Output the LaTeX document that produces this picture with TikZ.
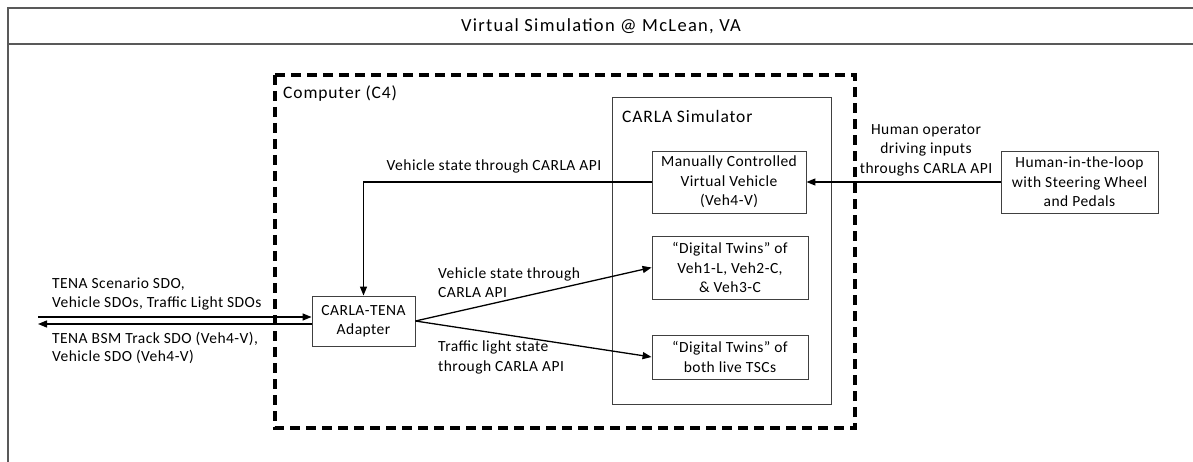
\documentclass[tikz,border=0pt]{standalone}
\usepackage{fontspec}
\setmainfont{Carlito}
\newfontfamily\wideface[LetterSpace=3]{Carlito}
\newfontfamily\headface[LetterSpace=5]{Carlito}
\newfontfamily\titleface[LetterSpace=7]{Carlito}
\usetikzlibrary{arrows.meta}
\begin{document}
\begin{tikzpicture}[x=1pt,y=-1pt,
  box/.style={draw=black!75,line width=0.9pt,minimum width=#1,inner sep=0pt,align=center,font=\wideface\fontsize{15.5}{19.5}\selectfont},
  lbl/.style={inner sep=0pt,font=\wideface\fontsize{15.5}{19.5}\selectfont},
  side/.style={inner sep=0pt,font=\wideface\fontsize{15.5}{18.5}\selectfont},
  conn/.style={line width=1.3pt,-{Triangle[length=9pt,width=7pt]}}]
\useasboundingbox (0,0) rectangle (1193,462);
% outer frame
\draw[draw=black!65,line width=1.2pt] (8,475) -- (8,8) -- (1200,8);
\draw[draw=black!65,line width=1.2pt] (8,44) -- (1200,44);
\node[inner sep=0pt,font=\titleface\fontsize{18.5}{22}\selectfont] (title) at (601,26) {Virtual Simulation @ McLean, VA};
% computer dashed box
\draw[line width=3.2pt,dash pattern=on 10pt off 6pt] (275,75) rectangle (855,428);
\node[inner sep=0pt,anchor=west,font=\headface\fontsize{17.5}{20}\selectfont] (comp) at (283,94) {Computer (C4)};
% CARLA simulator container
\node[draw=black!75,line width=0.9pt,minimum width=219pt,minimum height=307pt,inner sep=0pt] (sim) at (721.5,250.5) {};
\node[inner sep=0pt,anchor=west,font=\headface\fontsize{17.5}{20}\selectfont] (simlbl) at (622,116) {CARLA Simulator};
% boxes
\node[box=154pt,minimum height=62pt] (manual) at (729,182) {Manually Controlled\\Virtual Vehicle\\(Veh4-V)};
\node[box=156pt,minimum height=63pt] (dt1) at (730,267.5) {“Digital Twins” of\\Veh1-L, Veh2-C,\\\& Veh3-C};
\node[box=156pt,minimum height=44pt] (dt2) at (730,357) {“Digital Twins” of\\both live TSCs};
\node[box=157pt,minimum height=62pt] (human) at (1079.5,182) {Human-in-the-loop\\with Steering Wheel\\and Pedals};
\node[box=103pt,minimum height=50pt] (adapter) at (363.5,321) {CARLA-TENA\\Adapter};
% external endpoints
\coordinate (extin) at (38,317);
\coordinate (extout) at (38,324);
% connectors
\draw[conn] (human.west) -- (manual.east);
\draw[conn] (manual.west) -| (adapter.north);
\draw[conn] (extin) -- (adapter.west |- extin);
\draw[conn] (adapter.west |- extout) -- (extout);
\draw[conn] (adapter.east) -- (dt1.west);
\draw[conn] (adapter.east) -- (dt2.west);
% labels
\node[lbl,align=center] (hlbl) at (926,150) {Human operator\\driving inputs\\throughs CARLA API};
\node[lbl] (vlbl) at (494,166) {Vehicle state through CARLA API};
\node[side,anchor=west,align=left] (tin) at (52,294) {TENA Scenario SDO,\\Vehicle SDOs, Traffic Light SDOs};
\node[side,anchor=west,align=left] (tout) at (52,348) {TENA BSM Track SDO (Veh4-V),\\Vehicle SDO (Veh4-V)};
\node[lbl,anchor=west,align=left] (v2lbl) at (438,282.5) {Vehicle state through\\CARLA API};
\node[lbl,anchor=west,align=left] (tlbl) at (438,357.5) {Traffic light state\\through CARLA API};
\end{tikzpicture}
\end{document}
